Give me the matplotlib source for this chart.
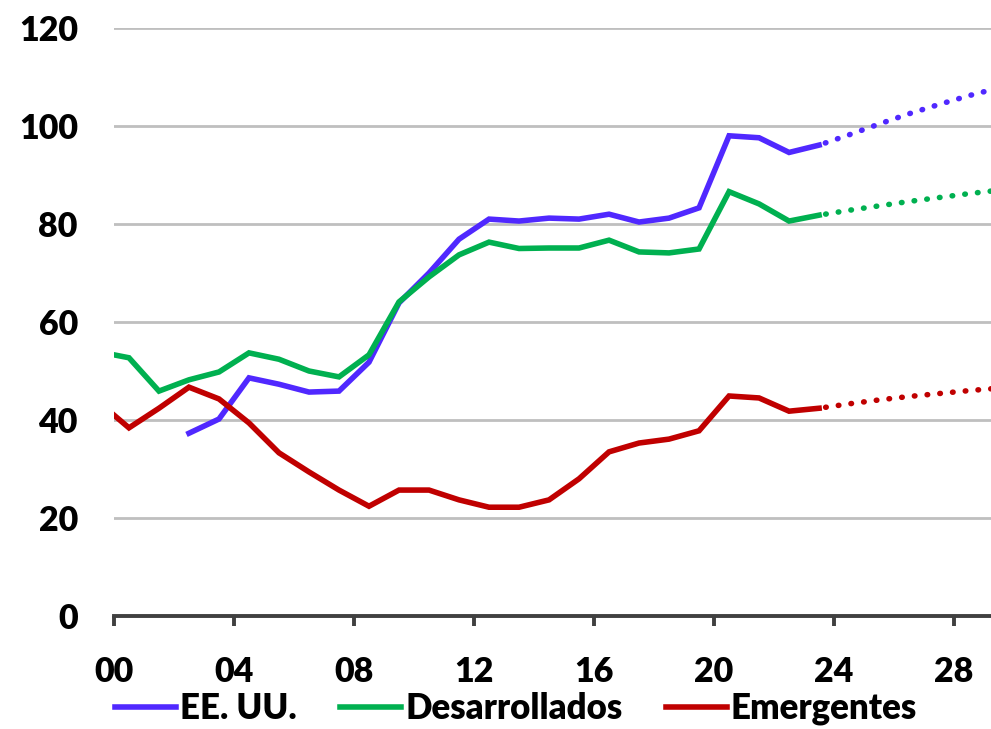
import numpy as np
import matplotlib.pyplot as plt

# historical data, one point per year (plotted at mid-year)
years = np.arange(1999, 2024)
eeuu = [np.nan, np.nan, np.nan, 37.3, 40.2, 48.6, 47.3, 45.7, 45.9, 51.8, 63.9, 70.0, 76.9,
        81.0, 80.6, 81.2, 81.0, 82.0, 80.4, 81.2, 83.3, 98.0, 97.6, 94.6, 96.1]
desarrollados = [53.9, 52.7, 45.9, 48.2, 49.8, 53.7, 52.4, 50.0, 48.8, 53.3, 64.1, 69.2, 73.7,
                 76.3, 75.0, 75.1, 75.1, 76.7, 74.3, 74.1, 74.9, 86.6, 84.1, 80.6, 81.8]
emergentes = [43.6, 38.4, 42.4, 46.7, 44.3, 39.4, 33.3, 29.4, 25.7, 22.4, 25.7, 25.7, 23.7,
              22.2, 22.2, 23.7, 28.0, 33.5, 35.3, 36.1, 37.8, 44.9, 44.5, 41.8, 42.4]

# projections 2023..2029
proj_years = np.arange(2023, 2030)
eeuu_p = [96.1, 98.2, 100.4, 102.5, 104.4, 106.2, 107.8]
desarrollados_p = [81.8, 82.8, 83.7, 84.6, 85.4, 86.2, 86.9]
emergentes_p = [42.4, 43.3, 44.1, 44.8, 45.4, 46.0, 46.5]

names = ["EE. UU.", "Desarrollados", "Emergentes"]
colors = ["#5028FF", "#00B050", "#C00000"]

plt.rcParams['font.family'] = ['Lato', 'DejaVu Sans']
plt.rcParams['font.weight'] = 'heavy'

fig = plt.figure(figsize=(9.91, 7.29), dpi=100)
ax = fig.add_axes([0.115, 0.155, 0.885, 0.8066])

x = years - 2000 + 0.5
xp = proj_years - 2000 + 0.5
for hist, proj, name, c in zip([eeuu, desarrollados, emergentes],
                               [eeuu_p, desarrollados_p, emergentes_p], names, colors):
    ax.plot(x, hist, color=c, lw=4.0, solid_joinstyle='miter', label=name, zorder=3)
    ax.plot(xp, proj, color=c, lw=4.0, linestyle=(1.1, (0.1, 2.2)),
            dash_capstyle='round', zorder=3)

ax.set_xlim(0, 29.23)
ax.set_ylim(0, 120)
ax.set_yticks(np.arange(0, 121, 20))
ax.set_xticks(np.arange(0, 29, 4))
ax.set_xticklabels([f"{v:02d}" for v in range(0, 29, 4)])
ax.grid(axis='y', color='#BFBFBF', lw=2)
ax.set_axisbelow(True)
for s in ['top', 'right', 'left']:
    ax.spines[s].set_visible(False)
ax.spines['bottom'].set_color('#404040')
ax.spines['bottom'].set_linewidth(2.8)
ax.spines['bottom'].set_zorder(4)
ax.tick_params(axis='x', length=7, width=2.8, color='#404040', pad=22, labelsize=24.5)
ax.tick_params(axis='y', length=0, pad=26, labelsize=24.5)

fig.legend(loc='center', bbox_to_anchor=(0.521, 0.028), ncol=3, frameon=False,
           fontsize=25, handlelength=1.75, handletextpad=0.12, columnspacing=1.25,
           borderaxespad=0, borderpad=0)

fig.savefig("out.png", dpi=100)
